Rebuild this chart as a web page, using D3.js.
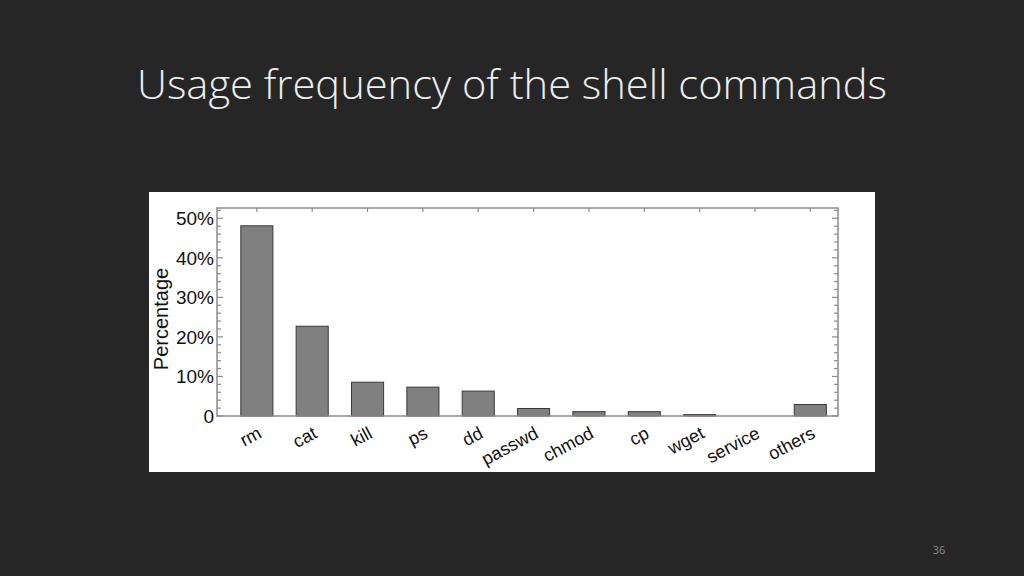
<!DOCTYPE html>
<html>
<head>
<meta charset="utf-8">
<script src="https://cdn.jsdelivr.net/npm/d3@7/dist/d3.min.js"></script>
<style>
  html, body { margin: 0; padding: 0; background: #262626; }
  svg { display: block; }
</style>
</head>
<body>
<div id="slide"></div>
<script>
// chart data
const commands = ["rm", "cat", "kill", "ps", "dd", "passwd", "chmod", "cp", "wget", "service", "others"];
const percentages = [48.1, 22.7, 8.55, 7.3, 6.3, 1.9, 1.1, 1.1, 0.35, 0, 2.9];
const majorTicks = [0, 10, 20, 30, 40, 50];

const width = 1024;
const height = 576;

const svg = d3.select("#slide")
  .append("svg")
  .attr("width", width)
  .attr("height", height);

svg.append("rect")
  .attr("width", width)
  .attr("height", height)
  .attr("fill", "#262626");

// slide title
svg.append("text")
  .attr("x", 137)
  .attr("y", 99)
  .attr("textLength", 750)
  .attr("lengthAdjust", "spacingAndGlyphs")
  .style("font-family", "'Open Sans', 'Lato', sans-serif")
  .style("font-weight", 300)
  .style("font-size", "40px")
  .style("fill", "#ededed")
  .text("Usage frequency of the shell commands");

// page number
svg.append("text")
  .attr("x", 939)
  .attr("y", 554)
  .attr("text-anchor", "middle")
  .style("font-family", "'Open Sans', sans-serif")
  .style("font-size", "11px")
  .style("fill", "#8a8a8a")
  .text("36");

// white picture panel
svg.append("rect")
  .attr("x", 149)
  .attr("y", 192)
  .attr("width", 726)
  .attr("height", 280)
  .attr("fill", "#ffffff");

const plot = { left: 217, right: 838, top: 208, bottom: 416 };

// index scale, the first bar sits a bit further from the left edge
const x = d3.scaleLinear()
  .domain([-0.72, 10.5])
  .range([plot.left, plot.right]);
const step = x(1) - x(0);
const barW = step * 0.58;

const y = d3.scaleLinear()
  .domain([0, 52.6])
  .range([plot.bottom, plot.top]);

const minorTicks = d3.range(0, 53, 2);
const fmt = d => d === 0 ? "0" : d + "%";

// bars
svg.append("g")
  .selectAll("rect")
  .data(percentages)
  .join("rect")
  .attr("x", (d, i) => x(i) - barW / 2)
  .attr("y", d => y(d))
  .attr("width", barW)
  .attr("height", d => y(0) - y(d))
  .attr("fill", "#808080")
  .attr("stroke", "#3a3a3a")
  .attr("stroke-width", 1);

// frame
svg.append("rect")
  .attr("x", plot.left)
  .attr("y", plot.top)
  .attr("width", plot.right - plot.left)
  .attr("height", plot.bottom - plot.top)
  .attr("fill", "none")
  .attr("stroke", "#8c8c8c")
  .attr("stroke-width", 1.5);

// left and right ticks pointing inward
const tickG = svg.append("g")
  .attr("stroke", "#8c8c8c")
  .attr("stroke-width", 1.2);

tickG.selectAll(".tl")
  .data(minorTicks)
  .join("line")
  .attr("x1", plot.left)
  .attr("x2", d => plot.left + (d % 10 === 0 ? 6 : 4))
  .attr("y1", d => y(d))
  .attr("y2", d => y(d));

tickG.selectAll(".tr")
  .data(minorTicks)
  .join("line")
  .attr("x1", plot.right)
  .attr("x2", d => plot.right - (d % 10 === 0 ? 6 : 4))
  .attr("y1", d => y(d))
  .attr("y2", d => y(d));

// top ticks at each category
tickG.selectAll(".tt")
  .data(commands)
  .join("line")
  .attr("x1", (d, i) => x(i))
  .attr("x2", (d, i) => x(i))
  .attr("y1", plot.top)
  .attr("y2", plot.top + 4);

// y tick labels
svg.append("g")
  .selectAll("text")
  .data(majorTicks)
  .join("text")
  .attr("x", plot.left - 3)
  .attr("y", d => y(d))
  .attr("dy", "0.36em")
  .attr("text-anchor", "end")
  .style("font-family", "'Liberation Sans', Arial, sans-serif")
  .style("font-size", "19px")
  .style("fill", "#111")
  .text(fmt);

// y axis title
svg.append("text")
  .attr("transform", `translate(168,${(plot.top + plot.bottom) / 2 + 7}) rotate(-90)`)
  .attr("text-anchor", "middle")
  .style("font-family", "'Liberation Sans', Arial, sans-serif")
  .style("font-size", "20px")
  .style("fill", "#111")
  .text("Percentage");

// category labels, slanted
svg.append("g")
  .selectAll("text")
  .data(commands)
  .join("text")
  .attr("transform", (d, i) => `translate(${x(i) + 6},437) rotate(-28)`)
  .attr("text-anchor", "end")
  .style("font-family", "'Liberation Sans', Arial, sans-serif")
  .style("font-size", "18px")
  .style("fill", "#111")
  .text(d => d);
</script>
</body>
</html>
